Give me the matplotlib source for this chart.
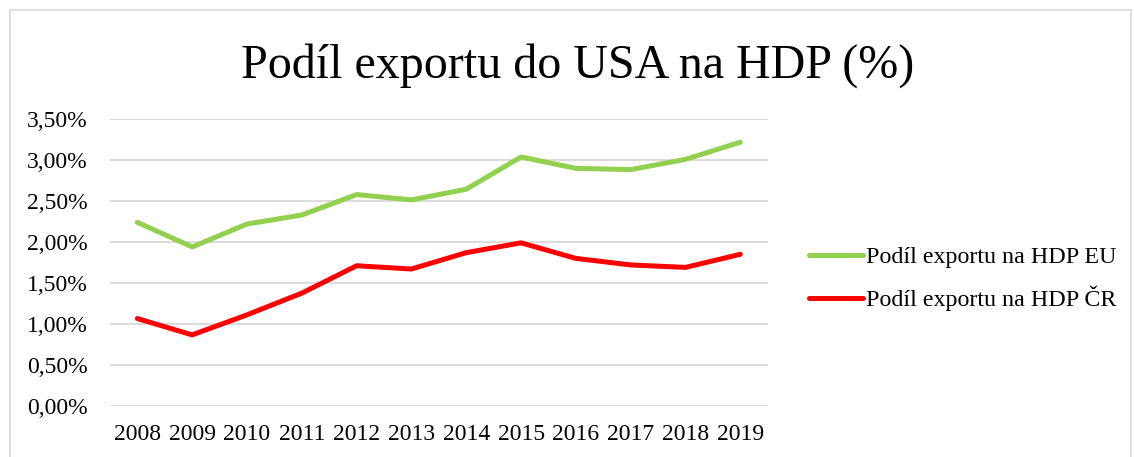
import matplotlib.pyplot as plt
from matplotlib.patches import Rectangle

years = ['2008', '2009', '2010', '2011', '2012', '2013',
         '2014', '2015', '2016', '2017', '2018', '2019']
eu = [2.24, 1.94, 2.22, 2.33, 2.58, 2.515, 2.645, 3.04, 2.90, 2.885, 3.01, 3.22]
cr = [1.065, 0.865, 1.11, 1.375, 1.71, 1.67, 1.87, 1.99, 1.80, 1.72, 1.69, 1.85]
labels = ['Podíl exportu na HDP EU', 'Podíl exportu na HDP ČR']
yticks = [0, 0.5, 1.0, 1.5, 2.0, 2.5, 3.0, 3.5]

plt.rcParams['font.family'] = ['Liberation Serif', 'DejaVu Serif']

fig = plt.figure(figsize=(11.34, 4.57), dpi=100)
ax = fig.add_axes([0.097, 0.1123, 0.58, 0.6267])

x = range(len(years))
ax.plot(x, eu, color='#92D050', lw=3.6, solid_capstyle='round', label=labels[0])
ax.plot(x, cr, color='#FF0000', lw=3.6, solid_capstyle='round', label=labels[1])

ax.set_xlim(-0.5, len(years) - 0.5)
ax.set_ylim(0, 3.5)
ax.set_xticks(list(x))
ax.set_xticklabels(years)
ax.set_yticks(yticks)
ax.set_yticklabels([('%.2f%%' % v).replace('.', ',') for v in yticks])
ax.tick_params(length=0, labelsize=17, colors='#000000')
ax.tick_params(axis='x', pad=13)
ax.tick_params(axis='y', pad=16)
ax.grid(axis='y', color='#D9D9D9', lw=1.3)
ax.set_axisbelow(True)
for s in ax.spines.values():
    s.set_visible(False)

fig.text(0.509, 0.856, 'Podíl exportu do USA na HDP (%)', ha='center', va='center', fontsize=34.6)

fig.legend(loc='center left', bbox_to_anchor=(0.694, 0.39), frameon=False,
           fontsize=17.3, handlelength=2.25, handletextpad=0.15, labelspacing=0.75)

fig.patches.append(Rectangle((10 / 1134, -0.1), (1131 - 10) / 1134, 1.1 - 10 / 457,
                             transform=fig.transFigure, fill=False,
                             edgecolor='#D9D9D9', lw=1.2))

fig.savefig('out.png', dpi=100)
